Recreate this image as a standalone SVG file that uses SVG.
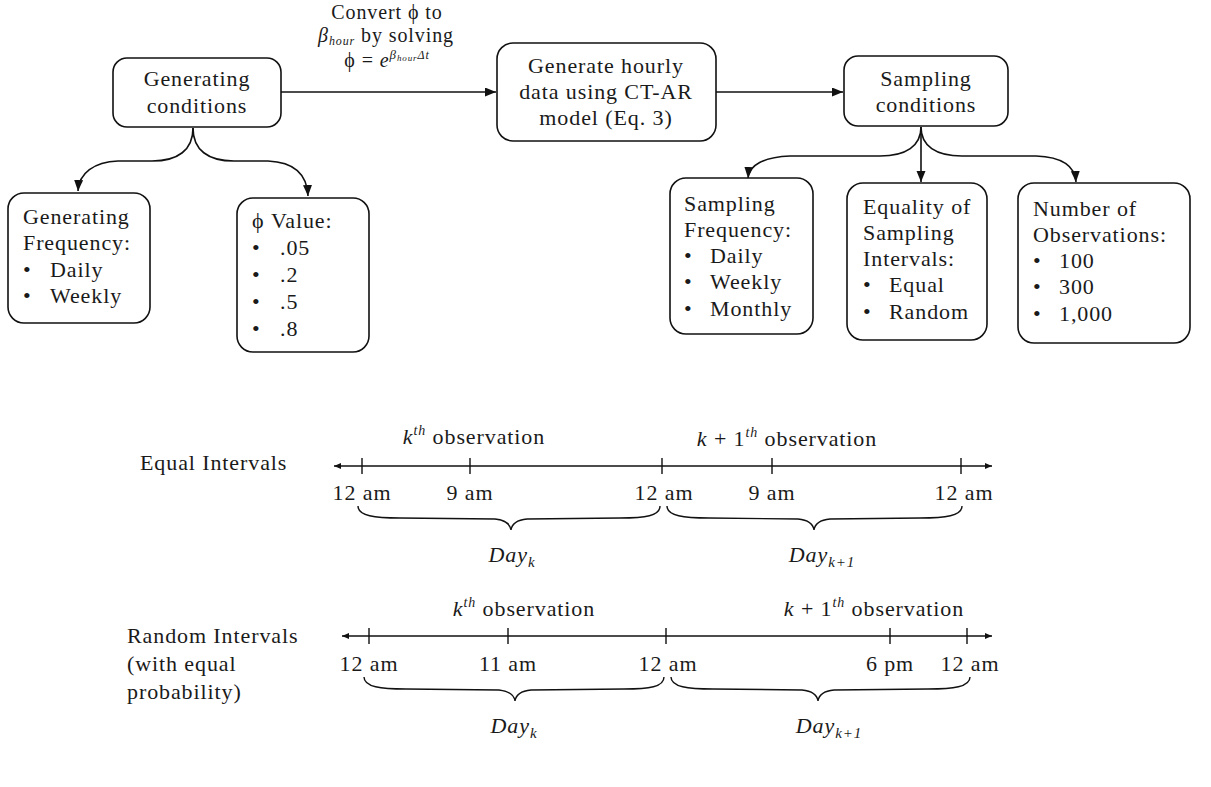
<svg xmlns="http://www.w3.org/2000/svg" width="1211" height="787" viewBox="0 0 1211 787">
<defs>
<style>
.box{fill:#fff;stroke:#111;stroke-width:1.6}
.t{font-family:"Liberation Serif","Times New Roman",serif;font-size:22px;letter-spacing:0.9px;fill:#1a1a1a}
.s{font-size:20px}
.i{font-style:italic}
.c{text-anchor:middle}
.ln{fill:none;stroke:#111;stroke-width:1.6}
.tl{fill:none;stroke:#111;stroke-width:1.4}
</style>
<marker id="ah" markerUnits="userSpaceOnUse" markerWidth="12" markerHeight="10" refX="11" refY="4.5" orient="auto"><path d="M0,0 L11,4.5 L0,9 z" fill="#111"/></marker>
<marker id="sh" markerUnits="userSpaceOnUse" markerWidth="8" markerHeight="6" refX="7" refY="3" orient="auto-start-reverse"><path d="M0,0 L7,3 L0,6 z" fill="#111"/></marker>
</defs>
<rect width="1211" height="787" fill="#fff"/>

<g id="connectors">
<path class="ln" d="M281,92 H496" marker-end="url(#ah)"/>
<path class="ln" d="M716,92 H843" marker-end="url(#ah)"/>
<path class="ln" d="M193,128 C193,150 178,161 152,161 L118,161 C94,162 79,173 78,191" marker-end="url(#ah)"/>
<path class="ln" d="M193,128 C193,150 208,161 234,161 L268,161 C292,162 307,173 308,196" marker-end="url(#ah)"/>
<path class="ln" d="M921,127 C921,146 906,156 880,156 L790,156 C764,157 749,165 748,178" marker-end="url(#ah)"/>
<path class="ln" d="M921,127 V182" marker-end="url(#ah)"/>
<path class="ln" d="M921,127 C921,146 936,156 962,156 L1036,156 C1062,157 1075,166 1076,182" marker-end="url(#ah)"/>
</g>

<g id="label-convert">
<text class="t s c" x="387" y="19">Convert ϕ to</text>
<text class="t s c" x="386" y="42"><tspan class="i">β</tspan><tspan class="i" font-size="12" dy="3">hour</tspan><tspan dy="-3"> by solving</tspan></text>
<text class="t s c" x="387" y="67">ϕ =  <tspan class="i">e</tspan><tspan class="i" font-size="13" dy="-8">β</tspan><tspan class="i" font-size="9" dy="2">hour</tspan><tspan class="i" font-size="12" dy="-2">Δt</tspan></text>
</g>

<g id="node-generating-conditions">
<rect class="box" x="113" y="58" width="168" height="69" rx="14"/>
<text class="t c" x="197" y="86">Generating</text>
<text class="t c" x="197" y="113">conditions</text>
</g>

<g id="node-generate-hourly">
<rect class="box" x="497" y="43" width="219" height="98" rx="16"/>
<text class="t c" x="606" y="73">Generate hourly</text>
<text class="t c" x="606" y="99">data using CT-AR</text>
<text class="t c" x="606" y="125">model (Eq. 3)</text>
</g>

<g id="node-sampling-conditions">
<rect class="box" x="844" y="56" width="164" height="70" rx="14"/>
<text class="t c" x="926" y="86">Sampling</text>
<text class="t c" x="926" y="112">conditions</text>
</g>

<g id="node-generating-frequency">
<rect class="box" x="8" y="193" width="142" height="130" rx="16"/>
<text class="t" x="23" y="224">Generating</text>
<text class="t" x="23" y="250">Frequency:</text>
<text class="t" x="23" y="277">•</text><text class="t" x="50" y="277">Daily</text>
<text class="t" x="23" y="303">•</text><text class="t" x="50" y="303">Weekly</text>
</g>

<g id="node-phi-value">
<rect class="box" x="237" y="198" width="132" height="154" rx="16"/>
<text class="t" x="252" y="228">ϕ Value:</text>
<text class="t" x="252" y="255">•</text><text class="t" x="280" y="255">.05</text>
<text class="t" x="252" y="282">•</text><text class="t" x="280" y="282">.2</text>
<text class="t" x="252" y="309">•</text><text class="t" x="280" y="309">.5</text>
<text class="t" x="252" y="336">•</text><text class="t" x="280" y="336">.8</text>
</g>

<g id="node-sampling-frequency">
<rect class="box" x="670" y="178" width="143" height="156" rx="16"/>
<text class="t" x="684" y="211">Sampling</text>
<text class="t" x="684" y="237">Frequency:</text>
<text class="t" x="684" y="263">•</text><text class="t" x="710" y="263">Daily</text>
<text class="t" x="684" y="289">•</text><text class="t" x="710" y="289">Weekly</text>
<text class="t" x="684" y="316">•</text><text class="t" x="710" y="316">Monthly</text>
</g>

<g id="node-equality">
<rect class="box" x="847" y="183" width="140" height="157" rx="16"/>
<text class="t" x="863" y="214">Equality of</text>
<text class="t" x="863" y="240">Sampling</text>
<text class="t" x="863" y="266">Intervals:</text>
<text class="t" x="863" y="292">•</text><text class="t" x="889" y="292">Equal</text>
<text class="t" x="863" y="319">•</text><text class="t" x="889" y="319">Random</text>
</g>

<g id="node-number-observations">
<rect class="box" x="1018" y="183" width="172" height="160" rx="16"/>
<text class="t" x="1033" y="216">Number of</text>
<text class="t" x="1033" y="242">Observations:</text>
<text class="t" x="1033" y="268">•</text><text class="t" x="1059" y="268">100</text>
<text class="t" x="1033" y="294">•</text><text class="t" x="1059" y="294">300</text>
<text class="t" x="1033" y="321">•</text><text class="t" x="1059" y="321">1,000</text>
</g>

<g id="equal-intervals">
<text class="t" x="140" y="470">Equal Intervals</text>
<path class="tl" d="M334,466 H992" marker-start="url(#sh)" marker-end="url(#sh)"/>
<path class="tl" d="M362,458 V474 M470,458 V474 M662,458 V474 M772,458 V474 M961,458 V474"/>
<text class="t i c" x="474" y="444">k<tspan font-size="14" dy="-9">th</tspan><tspan font-style="normal" dy="9"> observation</tspan></text>
<text class="t c" x="787" y="446"><tspan class="i">k</tspan> + 1<tspan class="i" font-size="14" dy="-9">th</tspan><tspan dy="9"> observation</tspan></text>
<text class="t c" x="362" y="500">12 am</text>
<text class="t c" x="470" y="500">9 am</text>
<text class="t c" x="664" y="500">12 am</text>
<text class="t c" x="772" y="500">9 am</text>
<text class="t c" x="964" y="500">12 am</text>
<path class="tl" d="M358,506 C358,516 375,518 400,518 L495,519 C505,520 510,523 511,530 C512,523 517,520 527,519 L620,518 C645,518 660,516 660,506"/>
<path class="tl" d="M667,506 C667,516 684,518 709,518 L798,519 C808,520 813,523 814,530 C815,523 820,520 830,519 L920,518 C945,518 962,516 962,506"/>
<text class="t i c" x="512" y="562">Day<tspan font-size="15" dy="5">k</tspan></text>
<text class="t i c" x="822" y="562">Day<tspan font-size="15" dy="5">k+1</tspan></text>
</g>

<g id="random-intervals">
<text class="t" x="127" y="643">Random Intervals</text>
<text class="t" x="127" y="671">(with equal</text>
<text class="t" x="127" y="699">probability)</text>
<path class="tl" d="M342,636 H992" marker-start="url(#sh)" marker-end="url(#sh)"/>
<path class="tl" d="M369,628 V644 M508,628 V644 M666,628 V644 M890,628 V644 M967,628 V644"/>
<text class="t i c" x="524" y="616">k<tspan font-size="14" dy="-9">th</tspan><tspan font-style="normal" dy="9"> observation</tspan></text>
<text class="t c" x="874" y="616"><tspan class="i">k</tspan> + 1<tspan class="i" font-size="14" dy="-9">th</tspan><tspan dy="9"> observation</tspan></text>
<text class="t c" x="369" y="671">12 am</text>
<text class="t c" x="508" y="671">11 am</text>
<text class="t c" x="668" y="671">12 am</text>
<text class="t c" x="890" y="671">6 pm</text>
<text class="t c" x="970" y="671">12 am</text>
<path class="tl" d="M364,677 C364,687 381,689 406,689 L499,690 C509,691 514,694 515,701 C516,694 521,691 531,690 L624,689 C649,689 664,687 664,677"/>
<path class="tl" d="M671,677 C671,687 688,689 713,689 L802,690 C812,691 817,694 818,701 C819,694 824,691 834,690 L928,689 C953,689 970,687 970,677"/>
<text class="t i c" x="514" y="733">Day<tspan font-size="15" dy="5">k</tspan></text>
<text class="t i c" x="829" y="733">Day<tspan font-size="15" dy="5">k+1</tspan></text>
</g>
</svg>
